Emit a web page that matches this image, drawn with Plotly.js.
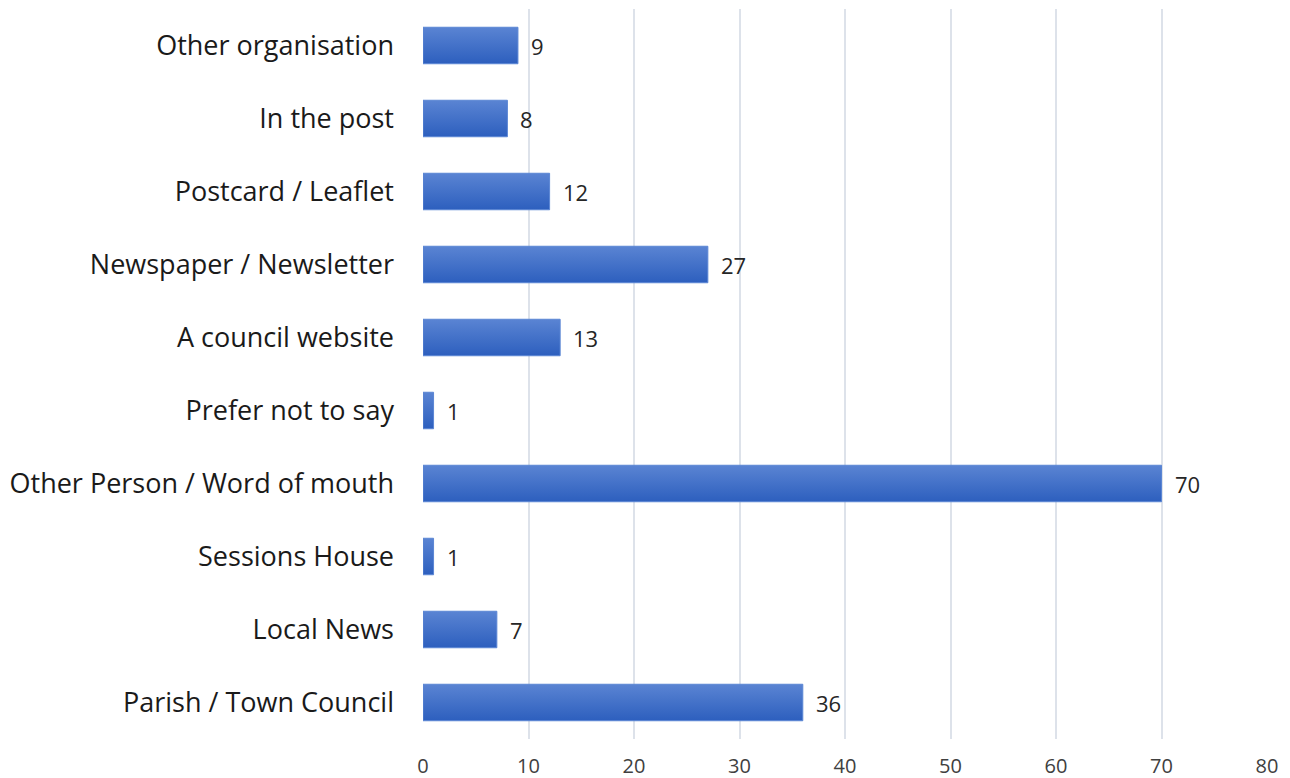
<!DOCTYPE html>
<html>
<head>
<meta charset="utf-8">
<script src="https://cdn.plot.ly/plotly-3.0.1.min.js"></script>
<style>html,body{margin:0;padding:0;background:#fff;}#chart{width:1290px;height:778px;}</style>
</head>
<body>
<div id="chart"></div>
<script>
const categories = ["Parish / Town Council","Local News","Sessions House","Other Person / Word of mouth","Prefer not to say","A council website","Newspaper / Newsletter","Postcard / Leaflet","In the post","Other organisation"];
const values = [36, 7, 1, 70, 1, 13, 27, 12, 8, 9];
const tickValues = [0,10,20,30,40,50,60,70,80];

const fontFam = "Open Sans, Noto Sans, sans-serif";

const trace = {
  type: 'bar',
  orientation: 'h',
  y: categories,
  x: values,
  marker: {color: '#4170c8', line: {color: '#5b86d4', width: 1}},
  hoverinfo: 'none'
};

const annotations = values.map((v, i) => ({
  x: v, y: categories[i], xref: 'x', yref: 'y',
  text: String(v), showarrow: false, xanchor: 'left', xshift: 11,
  font: {family: fontFam, size: 22, color: '#262626'}
}));

const layout = {
  width: 1290, height: 778,
  margin: {l: 423, r: 23, t: 8.5, b: 38.5},
  paper_bgcolor: '#fff', plot_bgcolor: '#fff',
  bargap: 0.5,
  showlegend: false,
  xaxis: {
    range: [0, 80], tickvals: tickValues, ticktext: tickValues.map(String),
    showgrid: true, gridcolor: '#dde2ea', gridwidth: 2, zeroline: false,
    showline: false, ticks: '', ticklen: 0, ticklabelstandoff: 13,
    tickfont: {family: fontFam, size: 20, color: '#404040'}
  },
  yaxis: {
    type: 'category', categoryorder: 'array', categoryarray: categories,
    range: [-0.5, 9.5], showgrid: false, zeroline: false, showline: false,
    ticks: '', ticklabelstandoff: 28,
    tickfont: {family: fontFam, size: 27, color: '#1a1a1a'}
  },
  annotations: annotations
};

Plotly.newPlot('chart', [trace], layout, {staticPlot: true, displayModeBar: false}).then(gd => {
  const svg = gd.querySelector('svg.main-svg');
  const ns = 'http://www.w3.org/2000/svg';
  let defs = svg.querySelector('defs');
  if (!defs) { defs = document.createElementNS(ns, 'defs'); svg.insertBefore(defs, svg.firstChild); }
  const grad = document.createElementNS(ns, 'linearGradient');
  grad.setAttribute('id', 'barGrad');
  grad.setAttribute('x1', '0'); grad.setAttribute('y1', '0');
  grad.setAttribute('x2', '0'); grad.setAttribute('y2', '1');
  [['0%', '#5a84d3'], ['100%', '#2d5fbe']].forEach(([o, c]) => {
    const s = document.createElementNS(ns, 'stop');
    s.setAttribute('offset', o); s.setAttribute('stop-color', c);
    grad.appendChild(s);
  });
  defs.appendChild(grad);
  gd.querySelectorAll('.barlayer .point path').forEach(p => { p.style.fill = 'url(#barGrad)'; });
});
</script>
</body>
</html>
